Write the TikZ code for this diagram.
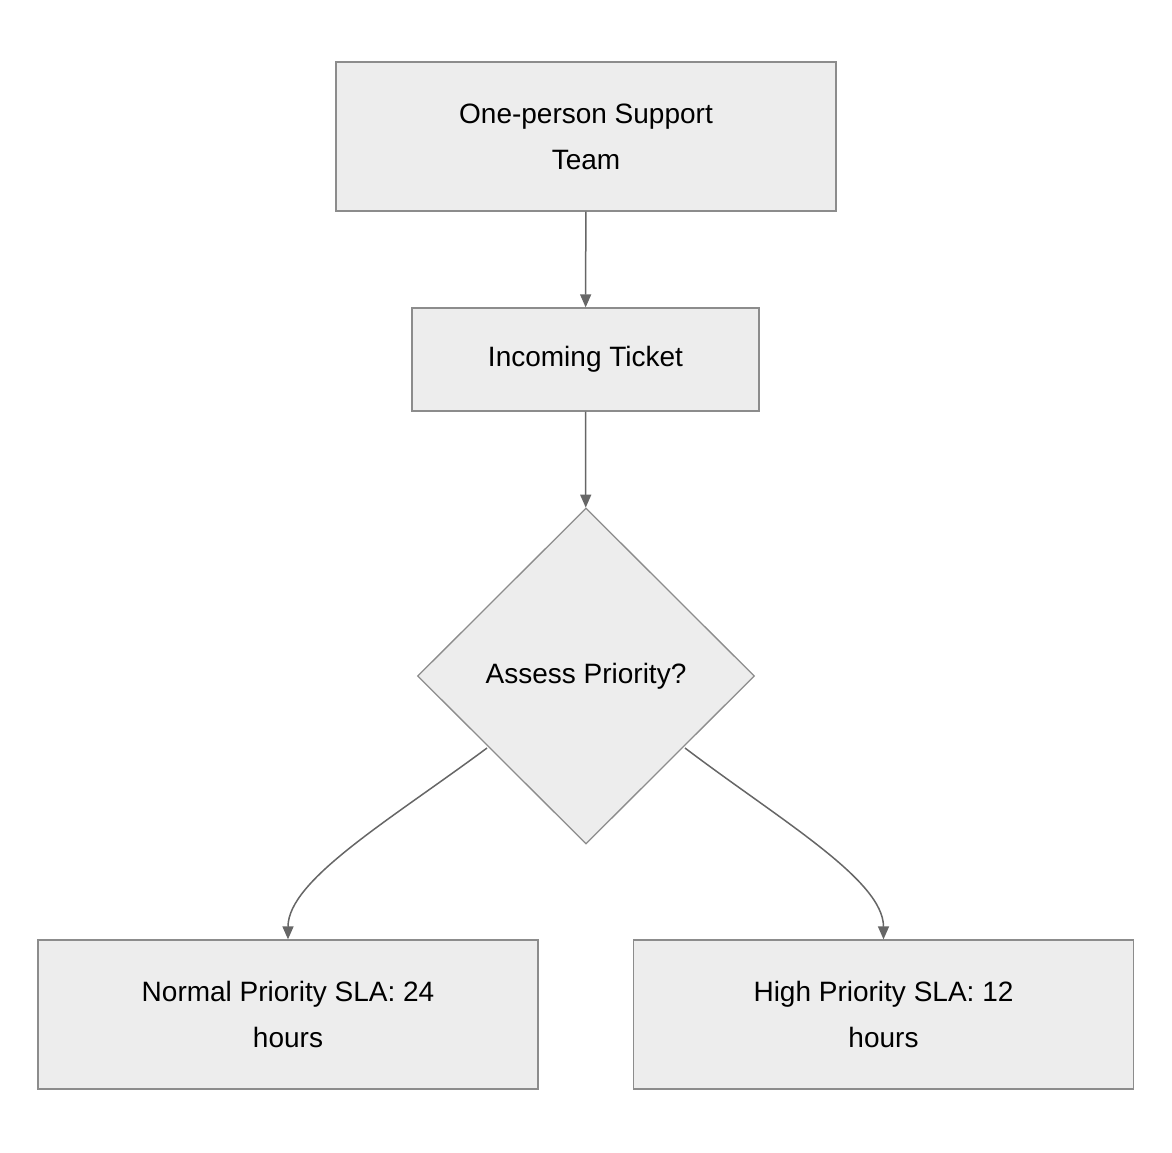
\documentclass[tikz,border=0pt]{standalone}
\usepackage{fontspec}
\setmainfont{Liberation Sans}
\usetikzlibrary{shapes.geometric,arrows.meta}
\begin{document}
\begin{tikzpicture}[x=1pt,y=-1pt,
  box/.style={draw=black!45,fill=black!7,line width=1.3pt,minimum width=500pt,minimum height=149pt,align=center,font=\fontsize{28}{46}\selectfont},
  arr/.style={draw=black!60,line width=1.5pt,-{Triangle[length=13pt,width=11pt]}}]
\useasboundingbox (0,0) rectangle (1172,1152);
\node[box] (a) at (586,136.5) {One-person Support\\Team};
\node[box,minimum width=347pt,minimum height=103pt] (b) at (585.5,359.5) {Incoming Ticket};
\node[draw=black!45,fill=black!7,line width=1.3pt,diamond,minimum width=337pt,minimum height=336pt,inner sep=0pt,font=\fontsize{28}{46}\selectfont] (c) at (586,676) {Assess Priority?};
\node[box] (d) at (288,1014.5) {Normal Priority SLA: 24\\hours};
\node[box] (e) at (883.5,1014.5) {High Priority SLA: 12\\hours};
\draw[arr] (a) -- (b);
\draw[arr] (b) -- (c);
\draw[arr] (487,748) .. controls (390,820) and (288,880) .. (d.north);
\draw[arr] (685,748) .. controls (780,820) and (883.5,880) .. (e.north);
\end{tikzpicture}
\end{document}
